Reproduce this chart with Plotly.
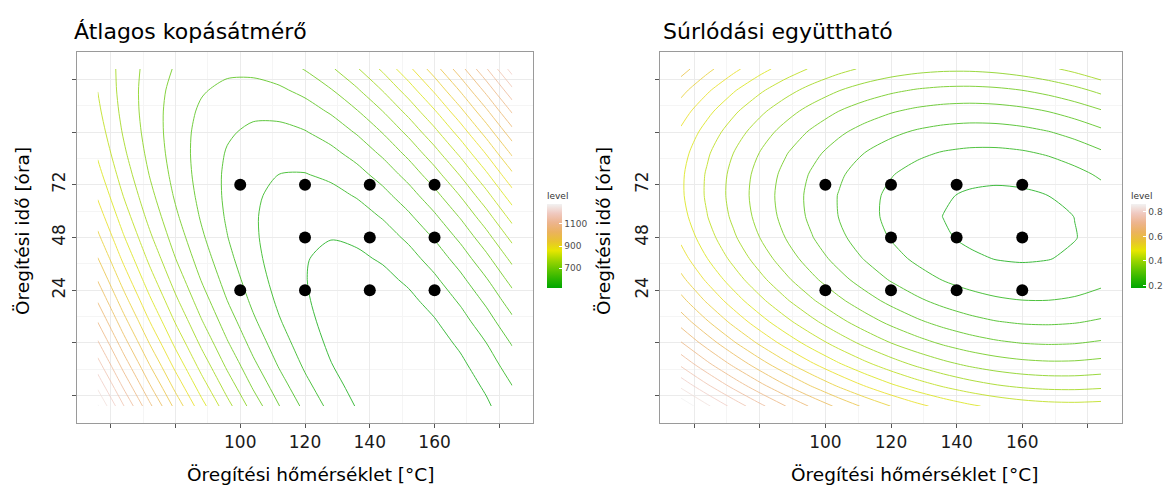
import plotly.graph_objects as go

# ---------------- data ----------------
# grid on which the fitted response surfaces are tabulated
temp_grid = [56, 64, 72, 80, 88, 96, 104, 112, 120, 128, 136, 144, 152, 160, 168, 176, 184]   # [°C]
time_grid = [-28.8, -19.2, -9.6, 0.0, 9.6, 19.2, 28.8, 38.4, 48.0,
             57.6, 67.2, 76.8, 86.4, 96.0, 105.6, 115.2, 124.8]                            # [óra]

# Átlagos kopásátmérő (rows follow time_grid, columns follow temp_grid)
wear_diameter = [
    [1284.24, 1161.94, 1049.78, 947.76, 855.88, 774.14, 702.53, 641.07, 589.74, 548.55, 517.50, 496.59, 485.82, 485.19, 494.70, 514.34, 544.13],
    [1227.82, 1110.07, 1002.46, 904.99, 817.66, 740.47, 673.41, 616.50, 569.72, 533.08, 506.58, 490.22, 484.00, 487.92, 501.97, 526.17, 560.50],
    [1174.82, 1061.62, 958.56, 865.64, 782.86, 710.22, 647.71, 595.35, 553.12, 521.03, 499.08, 487.27, 485.60, 494.07, 512.67, 541.42, 580.30],
    [1125.29, 1016.64, 918.13, 829.75, 751.52, 683.42, 625.47, 577.65, 539.97, 512.43, 495.03, 487.77, 490.64, 503.66, 526.81, 560.11, 603.54],
    [1079.19, 975.09, 881.13, 797.30, 723.62, 660.07, 606.66, 563.39, 530.26, 507.27, 494.42, 491.71, 499.13, 516.70, 544.40, 582.24, 630.22],
    [1036.53, 936.98, 847.56, 768.29, 699.15, 640.15, 591.29, 552.57, 523.99, 505.55, 497.25, 499.08, 511.06, 533.17, 565.42, 607.81, 660.34],
    [997.33, 902.33, 817.46, 742.74, 678.15, 623.70, 579.39, 545.22, 521.19, 507.29, 503.54, 509.92, 526.45, 553.11, 589.91, 636.85, 693.93],
    [961.54, 871.09, 790.77, 720.60, 660.56, 610.66, 570.90, 541.28, 521.79, 512.45, 513.24, 524.18, 545.25, 576.46, 617.81, 669.30, 730.93],
    [929.21, 843.30, 767.54, 701.91, 646.42, 601.07, 565.86, 540.79, 525.85, 521.06, 526.40, 541.89, 567.51, 603.27, 649.17, 705.21, 771.39],
    [900.31, 818.95, 747.74, 686.66, 635.72, 594.92, 564.26, 543.74, 533.35, 533.11, 543.00, 563.03, 593.20, 633.51, 683.96, 744.55, 815.28],
    [874.87, 798.06, 731.39, 674.86, 628.47, 592.22, 566.11, 550.13, 544.30, 548.60, 563.04, 587.62, 622.34, 667.20, 722.20, 787.34, 862.61],
    [852.86, 780.60, 718.48, 666.50, 624.66, 592.96, 571.40, 559.97, 558.69, 567.54, 586.54, 615.67, 654.94, 704.35, 763.90, 833.59, 913.41],
    [834.30, 766.59, 709.02, 661.59, 624.30, 597.14, 580.13, 573.25, 576.52, 589.92, 613.46, 647.14, 690.96, 744.92, 809.02, 883.25, 967.63],
    [819.17, 756.01, 702.99, 660.11, 627.37, 604.76, 592.30, 589.97, 597.78, 615.73, 643.82, 682.05, 730.42, 788.93, 857.57, 936.36, 1025.28],
    [807.49, 748.88, 700.41, 662.08, 633.88, 615.83, 607.91, 610.14, 622.50, 645.00, 677.64, 720.42, 773.34, 836.39, 909.59, 992.92, 1086.39],
    [799.25, 745.19, 701.27, 667.48, 643.84, 630.33, 626.96, 633.74, 650.65, 677.70, 714.88, 762.21, 819.68, 887.28, 965.03, 1052.91, 1150.93],
    [794.45, 744.94, 705.56, 676.33, 657.23, 648.28, 649.46, 660.78, 682.24, 713.84, 755.58, 807.45, 869.47, 941.62, 1023.91, 1116.35, 1218.92],
]

# Súrlódási együttható (rows follow time_grid, columns follow temp_grid)
friction = [
    [0.8928, 0.8344, 0.7801, 0.7299, 0.6837, 0.6416, 0.6035, 0.5694, 0.5394, 0.5135, 0.4916, 0.4737, 0.4599, 0.4501, 0.4444, 0.4427, 0.4450],
    [0.8164, 0.7592, 0.7060, 0.6569, 0.6118, 0.5707, 0.5337, 0.5008, 0.4719, 0.4470, 0.4262, 0.4095, 0.3968, 0.3881, 0.3835, 0.3829, 0.3864],
    [0.7476, 0.6915, 0.6395, 0.5915, 0.5475, 0.5075, 0.4716, 0.4398, 0.4120, 0.3883, 0.3686, 0.3529, 0.3413, 0.3337, 0.3302, 0.3307, 0.3353],
    [0.6866, 0.6316, 0.5806, 0.5337, 0.4908, 0.4520, 0.4172, 0.3865, 0.3598, 0.3372, 0.3186, 0.3040, 0.2935, 0.2870, 0.2846, 0.2863, 0.2920],
    [0.6332, 0.5793, 0.5294, 0.4836, 0.4418, 0.4041, 0.3705, 0.3408, 0.3152, 0.2937, 0.2762, 0.2628, 0.2534, 0.2480, 0.2467, 0.2495, 0.2563],
    [0.5874, 0.5346, 0.4859, 0.4412, 0.4005, 0.3639, 0.3314, 0.3029, 0.2784, 0.2580, 0.2416, 0.2292, 0.2209, 0.2167, 0.2165, 0.2203, 0.2282],
    [0.5494, 0.4977, 0.4500, 0.4064, 0.3669, 0.3314, 0.2999, 0.2725, 0.2491, 0.2298, 0.2145, 0.2033, 0.1961, 0.1930, 0.1939, 0.1988, 0.2078],
    [0.5190, 0.4684, 0.4218, 0.3793, 0.3409, 0.3065, 0.2762, 0.2499, 0.2276, 0.2094, 0.1952, 0.1851, 0.1790, 0.1770, 0.1790, 0.1850, 0.1951],
    [0.4962, 0.4467, 0.4013, 0.3599, 0.3226, 0.2893, 0.2600, 0.2348, 0.2137, 0.1966, 0.1835, 0.1745, 0.1695, 0.1686, 0.1717, 0.1789, 0.1901],
    [0.4812, 0.4328, 0.3885, 0.3482, 0.3119, 0.2797, 0.2516, 0.2275, 0.2075, 0.1915, 0.1795, 0.1716, 0.1677, 0.1679, 0.1721, 0.1804, 0.1927],
    [0.4737, 0.4265, 0.3833, 0.3441, 0.3090, 0.2779, 0.2508, 0.2278, 0.2089, 0.1940, 0.1831, 0.1763, 0.1736, 0.1749, 0.1802, 0.1896, 0.2030],
    [0.4740, 0.4278, 0.3857, 0.3476, 0.3136, 0.2836, 0.2577, 0.2358, 0.2180, 0.2042, 0.1945, 0.1888, 0.1871, 0.1895, 0.1959, 0.2064, 0.2209],
    [0.4819, 0.4368, 0.3958, 0.3589, 0.3260, 0.2971, 0.2723, 0.2515, 0.2348, 0.2221, 0.2134, 0.2088, 0.2083, 0.2118, 0.2193, 0.2309, 0.2465],
    [0.4975, 0.4535, 0.4136, 0.3778, 0.3460, 0.3182, 0.2945, 0.2748, 0.2592, 0.2476, 0.2401, 0.2366, 0.2371, 0.2417, 0.2504, 0.2631, 0.2798],
    [0.5207, 0.4779, 0.4391, 0.4043, 0.3736, 0.3470, 0.3244, 0.3058, 0.2913, 0.2808, 0.2744, 0.2720, 0.2736, 0.2793, 0.2891, 0.3029, 0.3208],
    [0.5516, 0.5099, 0.4722, 0.4386, 0.4090, 0.3834, 0.3619, 0.3444, 0.3310, 0.3216, 0.3163, 0.3150, 0.3178, 0.3246, 0.3355, 0.3504, 0.3694],
    [0.5902, 0.5496, 0.5130, 0.4805, 0.4520, 0.4275, 0.4071, 0.3907, 0.3784, 0.3702, 0.3660, 0.3658, 0.3697, 0.3776, 0.3895, 0.4055, 0.4256],
]

# contour levels
wear_levels = dict(start=520, end=1280, size=40)
fric_levels = dict(start=0.18, end=0.864, size=0.036)

# design points (measurements)
design_temp = [100, 120, 140, 160, 120, 140, 160, 100, 120, 140, 160]
design_time = [72, 72, 72, 72, 48, 48, 48, 24, 24, 24, 24]

# ticks
x_tick_vals = [60, 80, 100, 120, 140, 160, 180]
x_tick_text = ["", "", "100", "120", "140", "160", ""]
x_minor_vals = [70, 90, 110, 130, 150, 170]
y_tick_vals = [-24, 0, 24, 48, 72, 96, 120]
y_tick_text = ["", "", "24", "48", "72", "", ""]
y_minor_vals = [-12, 12, 36, 60, 84, 108]
wear_cbar_ticks = [700, 900, 1100]
fric_cbar_ticks = [0.2, 0.4, 0.6, 0.8]

titles = ["Átlagos kopásátmérő", "Súrlódási együttható"]
x_title = "Öregítési hőmérséklet [°C]"
y_title = "Öregítési idő [óra]"

# ---------------- style ----------------
W, H = 1165, 491
FONT = "DejaVu Sans"
terrain = [[0.0, "#00A600"], [1 / 9, "#2DB600"], [2 / 9, "#63C600"], [3 / 9, "#A0D600"],
           [4 / 9, "#E6E600"], [5 / 9, "#E8C32E"], [6 / 9, "#EBB25E"], [7 / 9, "#EDB48E"],
           [8 / 9, "#F0C9C0"], [1.0, "#F2F2F2"]]


def px(v):
    return v / W


def py(v):
    return 1 - v / H


panels = [
    dict(xd=[px(77), px(533)], cbx=px(547), z=wear_diameter,
         lev=wear_levels, ticks=wear_cbar_ticks, tx=px(72), xt=px(310), yt=px(22)),
    dict(xd=[px(660), px(1122)], cbx=px(1131), z=friction,
         lev=fric_levels, ticks=fric_cbar_ticks, tx=px(661), xt=px(914), yt=px(603)),
]

fig = go.Figure()
annotations = []
for i, p in enumerate(panels):
    xa = "x" if i == 0 else "x2"
    ya = "y" if i == 0 else "y2"
    lev = p["lev"]
    fig.add_trace(go.Contour(
        x=temp_grid, y=time_grid, z=p["z"], xaxis=xa, yaxis=ya,
        contours=dict(coloring="lines", start=lev["start"], end=lev["end"], size=lev["size"]),
        colorscale=terrain, showscale=False, opacity=0.75,
        line=dict(width=1, smoothing=0.8), hoverinfo="skip"))
    fig.add_trace(go.Scatter(
        x=design_temp, y=design_time, mode="markers", xaxis=xa, yaxis=ya,
        marker=dict(color="black", size=12), showlegend=False, hoverinfo="skip"))
    # gradient colour bar (legend for the contour levels)
    fig.add_trace(go.Scatter(
        x=[design_temp[0], design_temp[0]], y=[design_time[0], design_time[0]],
        mode="markers", xaxis=xa, yaxis=ya, showlegend=False, hoverinfo="skip",
        marker=dict(size=1, opacity=0, color=[lev["start"], lev["end"]],
                    colorscale=terrain, cmin=lev["start"], cmax=lev["end"], showscale=True,
                    colorbar=dict(x=p["cbx"], xanchor="left", y=py(288), yanchor="bottom",
                                  len=99, lenmode="pixels", thickness=15, thicknessmode="pixels",
                                  outlinewidth=0, xpad=0, ypad=0,
                                  tickvals=p["ticks"], ticks="inside", ticklen=3,
                                  tickcolor="white", tickwidth=1,
                                  tickfont=dict(family=FONT, size=9, color="#4D4D4D"),
                                  title=dict(text="level", side="top",
                                             font=dict(family=FONT, size=9, color="#333333"))))))
    axis_common = dict(showline=True, mirror=True, linecolor="#9A9A9A", linewidth=1,
                       showgrid=True, gridcolor="#EBEBEB", gridwidth=1, zeroline=False,
                       ticks="outside", ticklen=4, tickcolor="#555555", tickwidth=1,
                       tickfont=dict(family=FONT, size=17, color="#1A1A1A"))
    fig.update_layout(**{
        ("xaxis" if i == 0 else "xaxis2"): dict(
            domain=p["xd"], anchor=ya, range=[49.6, 190.4], tickmode="array",
            tickvals=x_tick_vals, ticktext=x_tick_text,
            minor=dict(tickmode="array", tickvals=x_minor_vals, showgrid=True,
                       gridcolor="#F5F5F5", gridwidth=0.6, ticks=""),
            **axis_common),
        ("yaxis" if i == 0 else "yaxis2"): dict(
            domain=[py(423), py(52)], anchor=xa, range=[-36.5, 132.5], tickmode="array",
            tickvals=y_tick_vals, ticktext=y_tick_text, tickangle=-90,
            minor=dict(tickmode="array", tickvals=y_minor_vals, showgrid=True,
                       gridcolor="#F5F5F5", gridwidth=0.6, ticks=""),
            **axis_common),
    })
    annotations.append(dict(text=titles[i], x=p["tx"], y=py(31), xref="paper", yref="paper",
                            xanchor="left", yanchor="middle", showarrow=False,
                            font=dict(family=FONT, size=22, color="black")))
    annotations.append(dict(text=x_title, x=p["xt"], y=py(474), xref="paper", yref="paper",
                            xanchor="center", yanchor="middle", showarrow=False,
                            font=dict(family=FONT, size=18.5, color="black")))
    annotations.append(dict(text=y_title, x=p["yt"], y=py(231), xref="paper", yref="paper",
                            xanchor="center", yanchor="middle", showarrow=False, textangle=-90,
                            font=dict(family=FONT, size=18.5, color="black")))

fig.update_layout(width=W, height=H, margin=dict(l=0, r=0, t=0, b=0, autoexpand=False),
                  paper_bgcolor="white", plot_bgcolor="white", showlegend=False,
                  annotations=annotations, font=dict(family=FONT))

fig.write_html("out.html", config={"displayModeBar": False},
               post_script="document.body.style.margin='0';")
